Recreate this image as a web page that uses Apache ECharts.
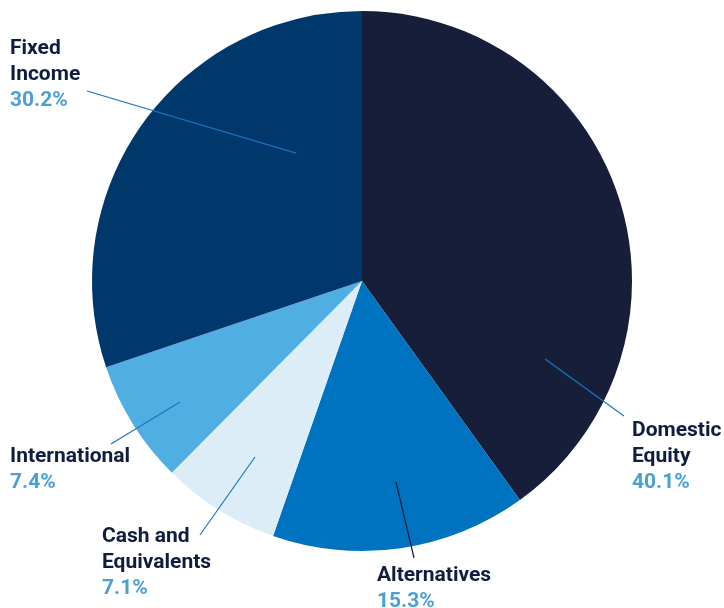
<!DOCTYPE html>
<html><head><meta charset="utf-8">
<script src="https://cdn.jsdelivr.net/npm/echarts@6/dist/echarts.min.js"></script>
<style>html,body{margin:0;padding:0;background:#fff}#c{width:724px;height:608px}</style>
</head><body><div id="c"></div>
<script>
const categories = ['Domestic Equity','Alternatives','Cash and Equivalents','International','Fixed Income'];
const labelNames = ['Domestic\nEquity','Alternatives','Cash and\nEquivalents','International','Fixed\nIncome'];
const values = [40.1, 15.3, 7.1, 7.4, 30.2];
const colors = ['#161e3a','#0073c0','#dcedf8','#50aee2','#00386b'];
const lineColors = ['#1a74c2','#0d1a40','#1a74c2','#1a74c2','#1a74c2'];
// label placement: [labelLeft, labelTop, lineEndX, lineEndY, anchorAngleDeg, anchorRadiusFrac]
const placement = [
  [632, 418, 624, 416, -23.1, 0.737],
  [377, 563, 414, 558, -80.4, 0.755],
  [102, 524, 200, 535, -121.3, 0.763],
  [10, 444, 111, 444, -146.4, 0.81],
  [10, 36, 87, 91, 117.3, 0.533]
];
const CX = 362, CY = 281, R = 270;

const baseData = categories.map((c, i) => ({name: c, value: values[i], itemStyle: {color: colors[i]}}));
const labelData = categories.map((c, i) => ({
  name: c, value: values[i],
  itemStyle: {color: 'rgba(0,0,0,0)'},
  labelLine: {lineStyle: {color: lineColors[i], width: 1.2}}
}));

const chart = echarts.init(document.getElementById('c'), null, {renderer: 'canvas'});
chart.setOption({
  animation: false,
  series: [{
    type: 'pie', z: 2,
    center: [CX, CY], radius: R, startAngle: 90, clockwise: true,
    emphasis: {disabled: true}, silent: true,
    label: {show: false}, labelLine: {show: false},
    data: baseData
  }, {
    type: 'pie', z: 5,
    center: [CX, CY], radius: R, startAngle: 90, clockwise: true,
    avoidLabelOverlap: false,
    emphasis: {disabled: true}, silent: true,
    data: labelData,
    label: {
      show: true,
      position: 'outside',
      formatter: p => `{n|${labelNames[p.dataIndex]}}\n{p|${values[p.dataIndex].toFixed(1)}%}`,
      rich: {
        n: {fontFamily: 'Roboto', fontWeight: 'bold', fontSize: 21, lineHeight: 26, color: '#101c40', align: 'left'},
        p: {fontFamily: 'Roboto', fontWeight: 'bold', fontSize: 21, lineHeight: 26, color: '#4aa0d4', align: 'left'}
      }
    },
    labelLine: {show: true, smooth: false},
    labelLayout: function (params) {
      const pl = placement[params.dataIndex];
      const a = pl[4] * Math.PI / 180;
      const sx = CX + Math.cos(a) * R * pl[5];
      const sy = CY - Math.sin(a) * R * pl[5];
      return {
        x: pl[0], y: pl[1], align: 'left', verticalAlign: 'top',
        labelLinePoints: [[sx, sy], [pl[2], pl[3]], [pl[2], pl[3]]]
      };
    }
  }]
});
</script></body></html>
